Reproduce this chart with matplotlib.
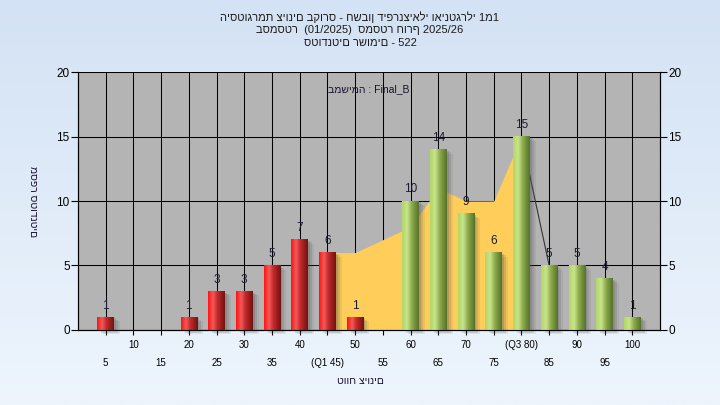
import numpy as np
import matplotlib
matplotlib.use("Agg")
import matplotlib.pyplot as plt
from matplotlib.colors import LinearSegmentedColormap

plt.rcParams['font.family'] = ['Liberation Sans', 'DejaVu Sans']

# grade bins and counts
grades = [5, 10, 15, 20, 25, 30, 35, 40, 45, 50, 55, 60, 65, 70, 75, 80, 85, 90, 95, 100]
counts = [1, 0, 0, 1, 3, 3, 5, 7, 6, 1, 0, 10, 14, 9, 6, 15, 5, 5, 4, 1]
tick_labels = ['5', '10', '15', '20', '25', '30', '35', '40', '(Q1 45)', '50',
               '55', '60', '65', '70', '75', '(Q3 80)', '85', '90', '95', '100']
pass_grade = 55

# distribution curve between Q1 and Q3, then its tail
curve_x = [45, 50, 55, 60, 65, 70, 75, 80]
curve_y = [6, 6, 7, 8, 11, 10, 10, 15]
tail_x = [80, 85]
tail_y = [15, 5]

title_lines = ['היסטוגרמת ציונים בקורס - חשבון דיפרנציאלי ואינטגרלי 1מ1',
               'בסמסטר  (01/2025)  סמסטר חורף 2025/26',
               'סטודנטים רשומים - 522']
xlabel = 'טווח ציונים'
ylabel = 'מספר סטודנטים'
series_note = 'במשימה : Final_B'

fig = plt.figure(figsize=(7.2, 4.05), dpi=100)

# light blue gradient background
bg = fig.add_axes([0, 0, 1, 1], zorder=-5)
bg.imshow(np.linspace(0, 1, 256).reshape(-1, 1),
          cmap=LinearSegmentedColormap.from_list('bg', ['#d3e2f4', '#eef5fd']),
          aspect='auto', extent=(0, 1, 0, 1))
bg.axis('off')

ax = fig.add_axes([0.1083, 0.1852, 0.8084, 0.637])
ax.set_facecolor('#b4b4b4')

red_cm = LinearSegmentedColormap.from_list(
    'r', [(0, '#ff1414'), (0.3, '#f25a5a'), (0.55, '#c42a2a'), (1, '#731212')])
green_cm = LinearSegmentedColormap.from_list(
    'g', [(0, '#b2d667'), (0.3, '#c9e48c'), (0.6, '#8aa94a'), (1, '#55722a')])
grad = np.linspace(0, 1, 64).reshape(1, -1)

ax.set_xticks(grades)
ax.set_yticks([0, 5, 10, 15, 20])
ax.grid(True, color='black', lw=0.75, zorder=0)
ax.set_axisbelow(True)

# yellow area and its tail line
ax.fill_between(curve_x, curve_y, 0, color='#ffcd5a', lw=0, zorder=1)
ax.plot(tail_x, tail_y, color='#333333', lw=0.8, zorder=1.5)

px = 105 / 582
py = 20 / 258
w = 3.0
for g, c in zip(grades, counts):
    if c == 0:
        continue
    x0 = g - w / 2
    for k, a in zip([2, 4, 6], [0.22, 0.16, 0.1]):
        ax.add_patch(plt.Rectangle((x0 + k * px, -k * py * 0.7), w, c, color='#505050',
                                   alpha=a, lw=0, zorder=2, clip_on=False))
    cm = red_cm if g < pass_grade else green_cm
    ax.imshow(grad, cmap=cm, extent=(x0, x0 + w, 0, c), aspect='auto',
              interpolation='bilinear', zorder=3)
    ax.annotate(str(c), (g, c), xytext=(0, 4), textcoords='offset points',
                ha='center', va='bottom', fontsize=8.5, color='#1c1c30', zorder=4)

ax.set_xlim(0, 105)
ax.set_ylim(0, 20)
ax.set_aspect('auto')

ax.tick_params(axis='x', length=3.5, width=0.8, labelbottom=False, color='black')
ax.tick_params(axis='y', length=5, width=0.8, labelsize=8.5, pad=1, colors='black')
for i, (g, lab) in enumerate(zip(grades, tick_labels)):
    off = 11 if i % 2 == 1 else 23.5
    ax.annotate(lab, (g, 0), xycoords=('data', 'axes fraction'), xytext=(0, -off),
                textcoords='offset points', ha='center', va='center', fontsize=7)

for s in ['left', 'right', 'bottom']:
    ax.spines[s].set_color('black')
    ax.spines[s].set_linewidth(0.8)
ax.spines['top'].set_visible(False)

ax2 = ax.twinx()
ax2.set_ylim(0, 20)
ax2.set_yticks([0, 5, 10, 15, 20])
ax2.tick_params(axis='y', length=5, width=0.8, labelsize=8.5, pad=1)
ax2.spines['top'].set_visible(False)

ax.text(0.5, 0.935, series_note, transform=ax.transAxes, ha='center', va='center',
        fontsize=7.5, color='#1a1030')

for i, line in enumerate(title_lines):
    fig.text(0.5, 1 - (17 + 13 * i) / 405, line, ha='center', va='center',
             fontsize=8, color='#1a1a1a')
fig.text(360 / 720, 1 - 381 / 405, xlabel, ha='center', va='center', fontsize=7.5,
         color='#1a1030')
fig.text(33 / 720, 1 - 202 / 405, ylabel, ha='center', va='center', fontsize=7.5,
         rotation=270, color='#1a1030')

fig.savefig('out.png', dpi=100)
